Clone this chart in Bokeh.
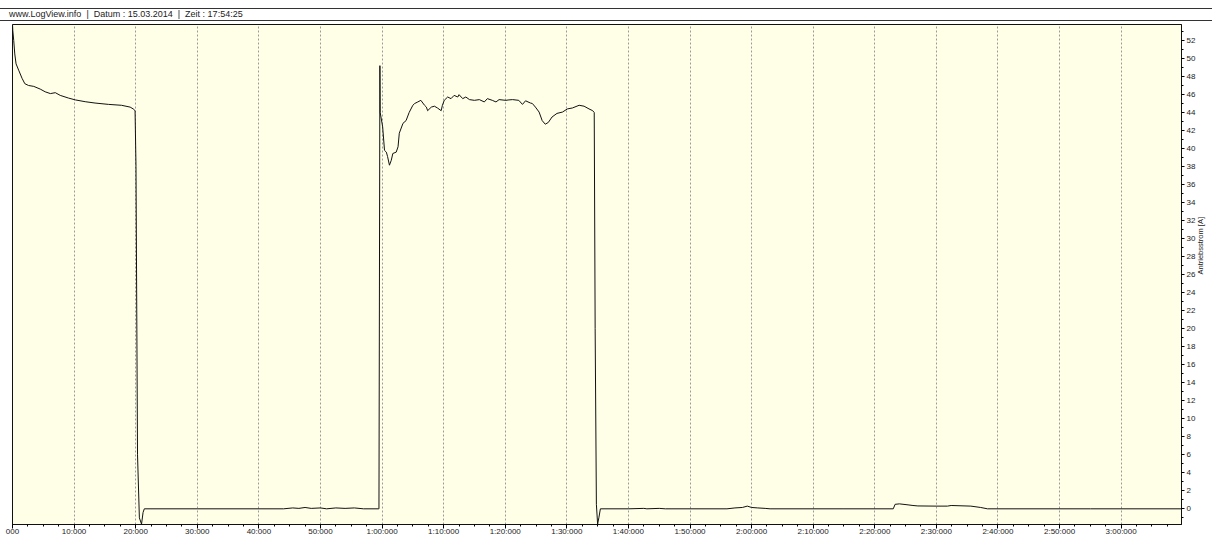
import math
from bokeh.plotting import figure
from bokeh.models import Div, Range1d, FixedTicker
from bokeh.layouts import column
from bokeh.embed import file_html
from bokeh.resources import INLINE

# ---- data (time in minutes, current in A) ----
seg1_t = [0, 0.05, 0.2, 0.37, 0.58, 1.0, 1.55, 2.0, 2.6, 3.45, 4.5, 5.3, 6.15, 6.95,
          7.75, 9.1, 10.2, 11.8, 13.4, 15.6, 17.7, 19.1, 19.6, 19.9, 20.05, 20.3,
          20.6, 20.95, 21.2, 21.4]
seg1_v = [53.8, 53.1, 52.0, 50.5, 49.4, 48.7, 47.8, 47.2, 47.0, 46.9, 46.6, 46.3, 46.1, 46.2,
          45.9, 45.6, 45.4, 45.2, 45.05, 44.9, 44.8, 44.6, 44.4, 44.2, 38.0, 6.0,
          -1.0, -1.7, -0.4, 0.0]

idle1_t = [30, 44, 45.5, 46.5, 47.5, 48.5, 50, 51, 52.5, 54, 55.5, 57, 59.4]
idle1_v = [0, 0, 0.1, 0.05, 0.15, 0.05, 0.1, 0.0, 0.1, 0.05, 0.1, 0, 0]

seg2_t = [59.5, 59.65, 59.7, 60.1, 60.4, 60.7, 60.9, 61.2, 61.5, 61.75, 62.3, 62.6, 62.8,
          63.4, 63.9, 64.4, 65.0, 65.3, 65.8, 66.3, 66.9, 67.2, 67.4, 68.0, 68.5, 69.0,
          69.6, 69.8, 70.1, 70.65, 71.2, 71.7, 72.3, 72.5, 73.1, 73.6, 74.2, 75.0, 75.8,
          76.6, 77.1, 77.9, 78.5, 79.0, 80.1, 80.6, 81.2, 82.2, 82.8, 83.3, 84.1, 84.4,
          84.9, 85.5, 86.0, 86.5, 87.0, 87.6, 88.4, 89.3, 90.1, 90.9, 92.0, 92.8, 93.6,
          94.2, 94.45, 94.6, 94.8, 95.0, 95.2, 95.45]
seg2_v = [0.0, 49.2, 44.0, 42.4, 39.8, 39.6, 39.1, 38.15, 38.7, 39.45, 39.6, 40.2, 41.7,
          42.8, 43.1, 44.0, 44.8, 45.0, 45.17, 45.35, 44.8, 44.6, 44.2, 44.6, 44.7, 44.5,
          44.2, 44.8, 45.35, 45.72, 45.54, 45.9, 45.72, 45.98, 45.54, 45.72, 45.43, 45.35, 45.43,
          45.17, 45.54, 45.35, 45.17, 45.43, 45.35, 45.4, 45.43, 45.35, 44.9, 45.3, 45.05, 45.0,
          44.6, 44.05, 43.1, 42.7, 42.9, 43.5, 43.9, 44.05, 44.4, 44.5, 44.8, 44.7, 44.4,
          44.2, 44.0, 20.0, 0.5, -1.7, -1.0, 0.0]

idle2_t = [100, 102.5, 103, 105, 106, 116, 117.3, 118.5, 119.3, 120, 121, 122.2, 123,
           135, 143.0, 143.3, 144.0, 145.4, 146.2, 147.0, 150, 151.8, 152.4, 155.6,
           157.2, 158.3, 175, 190]
idle2_v = [0, 0.05, 0, 0.05, 0, 0, 0.1, 0.15, 0.3, 0.15, 0.1, 0.05, 0,
           0, 0, 0.5, 0.55, 0.44, 0.37, 0.32, 0.3, 0.3, 0.37, 0.3,
           0.15, 0, 0, 0]

x_ticks = [0, 10, 20, 30, 40, 50, 60, 70, 80, 90, 100, 110, 120, 130, 140, 150, 160, 170, 180]
x_tick_labels = ["000", "10:000", "20:000", "30:000", "40:000", "50:000",
                 "1:00:000", "1:10:000", "1:20:000", "1:30:000", "1:40:000", "1:50:000",
                 "2:00:000", "2:10:000", "2:20:000", "2:30:000", "2:40:000", "2:50:000",
                 "3:00:000"]
y_ticks = list(range(0, 53, 2))

header_text = "www.LogView.info  |  Datum : 15.03.2014  |  Zeit : 17:54:25"
y_label = "Antriebsstrom [A]"

t_all = seg1_t + idle1_t + seg2_t + idle2_t
v_all = seg1_v + idle1_v + seg2_v + idle2_v

FONT = "Liberation Sans"

header = Div(text=header_text, width=1212, height=13, margin=(8, 0, 0, 0),
             styles={"border-top": "1px solid #333", "border-bottom": "1px solid #333",
                     "box-sizing": "border-box",
                     "font-family": FONT, "font-size": "9px", "line-height": "11px",
                     "white-space": "pre", "padding-left": "9px", "color": "#222"})

p = figure(width=1212, height=517, output_backend="svg", toolbar_location=None,
           x_range=Range1d(0, 189.8), y_range=Range1d(-1.74, 53.77),
           y_axis_location="right", margin=(0, 0, 0, 0),
           min_border_left=12, min_border_top=3, min_border_right=27, min_border_bottom=13)

p.background_fill_color = "#FFFFE8"
p.border_fill_color = "white"
p.outline_line_color = "#111111"
p.outline_line_width = 1

p.line(t_all, v_all, line_color="#111111", line_width=1)

# x axis
xa = p.xaxis[0]
xa.ticker = FixedTicker(ticks=x_ticks,
                        minor_ticks=[i * 2.5 for i in range(0, 76)])
xa.major_label_overrides = {t: s for t, s in zip(x_ticks, x_tick_labels)}
xa.major_label_text_font = FONT
xa.major_label_text_font_size = "8px"
xa.major_label_text_color = "#222222"
xa.major_label_standoff = -2
xa.axis_label_standoff = 0
xa.major_tick_in = 0
xa.major_tick_out = 4
xa.minor_tick_in = 0
xa.minor_tick_out = 2
xa.axis_line_color = "#111111"

# y axis (right)
ya = p.yaxis[0]
ya.ticker = FixedTicker(ticks=y_ticks, minor_ticks=list(range(-1, 54)))
ya.major_label_text_font = FONT
ya.major_label_text_font_size = "8px"
ya.major_label_text_color = "#222222"
ya.major_label_standoff = 2
ya.major_tick_in = 0
ya.major_tick_out = 3
ya.minor_tick_in = 0
ya.minor_tick_out = 2
ya.axis_line_color = "#111111"
ya.axis_label = y_label
ya.axis_label_text_font = FONT
ya.axis_label_text_font_size = "7.5px"
ya.axis_label_text_font_style = "normal"
ya.axis_label_text_color = "#222222"
ya.axis_label_standoff = 2
ya.axis_label_orientation = math.pi / 2

p.xgrid.ticker = FixedTicker(ticks=x_ticks)
p.xgrid.grid_line_color = "#9a9a9a"
p.xgrid.grid_line_dash = "2 2"
p.ygrid.grid_line_color = None

layout = column(header, p, spacing=0)
open("out.html", "w").write(file_html(layout, INLINE))
